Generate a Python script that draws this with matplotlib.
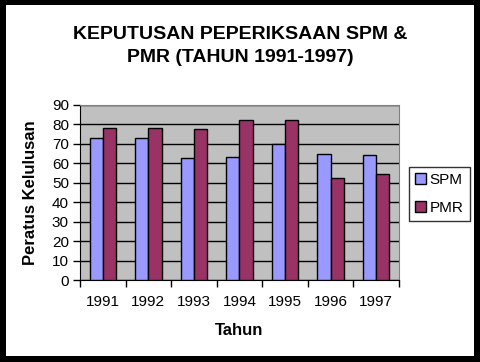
import numpy as np
import matplotlib.pyplot as plt
from matplotlib.patches import Rectangle

# data
years = ['1991', '1992', '1993', '1994', '1995', '1996', '1997']
spm = [72.9, 72.9, 62.6, 63.1, 70.1, 64.6, 64.1]
pmr = [78.0, 78.0, 77.5, 82.1, 82.1, 52.3, 54.4]

plt.rcParams['font.family'] = ['Liberation Sans', 'DejaVu Sans']

W, H = 480, 362
fig = plt.figure(figsize=(W / 100, H / 100), dpi=100, facecolor='black')
# white card inside the black frame
fig.patches.append(Rectangle((6 / W, 6 / H), 468 / W, 351 / H,
                             transform=fig.transFigure, facecolor='white',
                             edgecolor='none', zorder=-1))

ax = fig.add_axes([80 / W, (H - 280) / H, 319 / W, 175 / H])
ax.set_facecolor('#C0C0C0')

x = np.arange(len(years))
w = 0.29
ax.bar(x - w / 2, spm, w, color='#9999FF', edgecolor='black', linewidth=1,
       label='SPM', zorder=3)
ax.bar(x + w / 2, pmr, w, color='#993366', edgecolor='black', linewidth=1,
       label='PMR', zorder=3)

ax.set_xlim(-0.5, len(years) - 0.5)
ax.set_ylim(0, 90)
ax.set_yticks(range(0, 91, 10))
ax.yaxis.grid(True, color='black', linewidth=1, zorder=1)
ax.set_axisbelow(True)

# ticks between the groups, labels at the group centres
ax.set_xticks(np.arange(-0.5, len(years), 1.0))
ax.set_xticklabels([])
ax.set_xticks(x, minor=True)
ax.set_xticklabels(years, minor=True, fontsize=11)
ax.tick_params(axis='x', which='minor', length=0, pad=11)
ax.tick_params(axis='x', which='major', length=5, width=1, direction='out')
ax.tick_params(axis='y', length=5, width=1, direction='out', labelsize=11, pad=3)

for side in ['top', 'right']:
    ax.spines[side].set_color('#808080')
for side in ['left', 'bottom']:
    ax.spines[side].set_color('black')

ax.set_xlabel('Tahun', fontsize=12, fontweight='bold', labelpad=10)
ax.set_ylabel('Peratus Kelulusan', fontsize=12, fontweight='bold', labelpad=10)

fig.text(240 / W, 1 - 46 / H, 'KEPUTUSAN PEPERIKSAAN SPM &\nPMR (TAHUN 1991-1997)',
         ha='center', va='center', fontsize=14, fontweight='bold', linespacing=1.5)

leg = fig.legend(loc='upper left', bbox_to_anchor=(409 / W, 1 - 167 / H),
                 fontsize=11, frameon=True, fancybox=False, handlelength=0.7,
                 handleheight=0.7, handletextpad=0.25, borderpad=0.4,
                 labelspacing=0.9, borderaxespad=0)
leg.get_frame().set_edgecolor('black')
leg.get_frame().set_linewidth(1)

fig.savefig('out.png', dpi=100, facecolor='black')
